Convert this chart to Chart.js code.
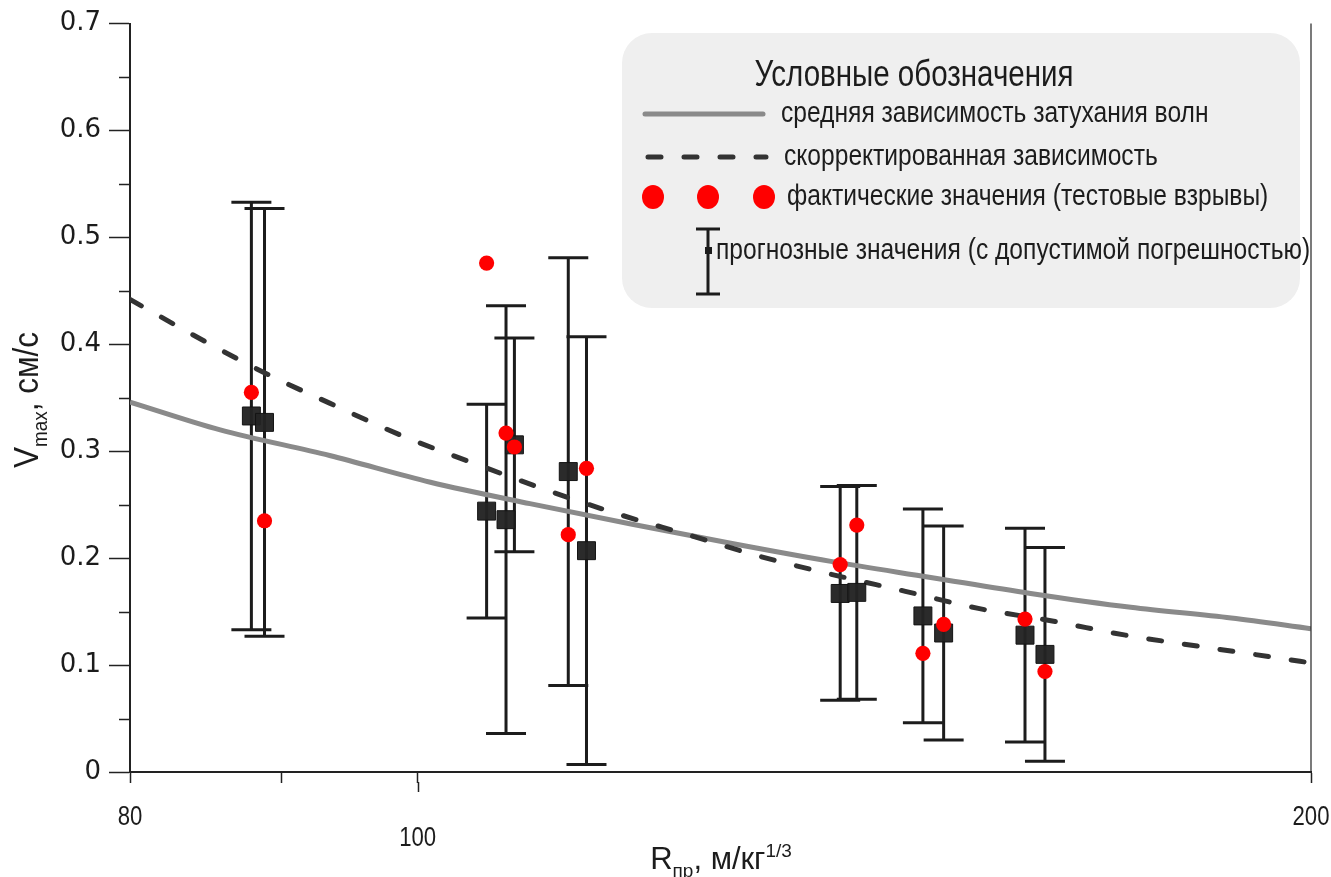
<!DOCTYPE html>
<html>
<head>
<meta charset="utf-8">
<script src="https://cdn.jsdelivr.net/npm/chart.js@4.4.1/dist/chart.umd.min.js"></script>
<style>
  html, body { margin: 0; padding: 0; background: #ffffff; }
  #wrap { width: 1331px; height: 877px; position: relative; }
</style>
</head>
<body>
<div id="wrap"><canvas id="chart" width="1331" height="877"></canvas></div>
<script>
// Reduced distance R (m/kg^1/3) of every test point
const distances = [87.9, 88.8, 105.5, 107.1, 107.8, 112.4, 114.0, 138.8, 140.6, 148.0, 150.4, 160.2, 162.7];
// Predicted peak velocity (cm/s) and its permissible error
const predicted = [0.333, 0.327, 0.244, 0.236, 0.306, 0.281, 0.207, 0.167, 0.168, 0.146, 0.130, 0.128, 0.110];
const tolerance = [0.2, 0.2, 0.1, 0.2, 0.1, 0.2, 0.2, 0.1, 0.1, 0.1, 0.1, 0.1, 0.1];
// Peak velocity measured in the test blasts (cm/s)
const measured = [0.355, 0.235, 0.476, 0.317, 0.304, 0.222, 0.284, 0.194, 0.231, 0.111, 0.138, 0.143, 0.094];

// Average wave attenuation curve
const meanR = [80, 85.8, 93.4, 101.0, 109.1, 118.0, 127.5, 137.8, 148.9, 160.9, 173.9, 188.0, 200];
const meanV = [0.346, 0.320, 0.296, 0.271, 0.251, 0.232, 0.214, 0.197, 0.182, 0.167, 0.154, 0.144, 0.134];
// Corrected attenuation curve
const corrR = [80, 84.5, 89.0, 93.4, 98.9, 104.4, 110.2, 116.6, 123.3, 130.3, 137.8, 146.0, 154.5, 163.8, 173.2, 183.9, 194.6, 200];
const corrV = [0.442, 0.405, 0.372, 0.345, 0.314, 0.289, 0.265, 0.242, 0.222, 0.202, 0.185, 0.169, 0.153, 0.141, 0.128, 0.117, 0.107, 0.102];

// Axis ticks
const xTicks = [80, 90, 100, 200];
const xTickLabels = ['80', '', '100', '200'];
const xLongTicks = [100];
const yMinorTicks = [0.05, 0.15, 0.25, 0.35, 0.45, 0.55, 0.65];

// Texts
const xTitle = [{ t: 'R', sub: 0 }, { t: 'пр', sub: 1 }, { t: ', м/кг', sub: 0 }, { t: '1/3', sub: -1 }];
const yTitle = [{ t: 'V', sub: 0 }, { t: 'max', sub: 1 }, { t: ', см/с', sub: 0 }];
const legendTitle = 'Условные обозначения';
const legendLabels = [
  'средняя зависимость затухания волн',
  'скорректированная зависимость',
  'фактические значения (тестовые взрывы)',
  'прогнозные значения (с допустимой погрешностью)'
];

const SANS = "'Liberation Sans', Arial, sans-serif";
const INK = '#1c1c1c';
const MEAN_COLOR = '#8a8a8a';
const CORR_COLOR = '#333333';
const DOT_COLOR = '#ff0000';
const DASH = [13, 23];

function toPoints(xs, ys) { return xs.map((x, i) => ({ x: x, y: ys[i] })); }

// Horizontally condensed text (narrow face look)
function narrowText(ctx, text, x, y, size, sx, align) {
  ctx.save();
  ctx.font = size + 'px ' + SANS;
  ctx.textAlign = 'left';
  const w = ctx.measureText(text).width * sx;
  const x0 = align === 'center' ? x - w / 2 : (align === 'right' ? x - w : x);
  ctx.translate(x0, y);
  ctx.scale(sx, 1);
  ctx.fillText(text, 0, 0);
  ctx.restore();
  return w;
}

// Text with sub/superscript parts, centred on (cx, baseline)
function drawRich(ctx, parts, cx, baseline, size, smallSize, sx) {
  const widths = parts.map(p => {
    ctx.font = (p.sub ? smallSize : size) + 'px ' + SANS;
    return ctx.measureText(p.t).width * sx;
  });
  const total = widths.reduce((a, b) => a + b, 0);
  let x = cx - total / 2;
  ctx.textBaseline = 'alphabetic';
  parts.forEach((p, i) => {
    const dy = p.sub === 1 ? size * 0.26 : (p.sub === -1 ? -size * 0.40 : 0);
    narrowText(ctx, p.t, x, baseline + dy, p.sub ? smallSize : size, sx, 'left');
    x += widths[i];
  });
}

// Vertical whiskers with caps for the predicted values
const errorBars = {
  id: 'errorBars',
  beforeDatasetsDraw(chart) {
    const { ctx, scales: { x, y } } = chart;
    ctx.save();
    ctx.strokeStyle = INK;
    ctx.lineWidth = 3;
    ctx.lineCap = 'butt';
    distances.forEach((r, i) => {
      const px = x.getPixelForValue(r);
      const top = y.getPixelForValue(predicted[i] + tolerance[i]);
      const bot = y.getPixelForValue(predicted[i] - tolerance[i]);
      ctx.beginPath();
      ctx.moveTo(px, top); ctx.lineTo(px, bot);
      ctx.moveTo(px - 20, top); ctx.lineTo(px + 20, top);
      ctx.moveTo(px - 20, bot); ctx.lineTo(px + 20, bot);
      ctx.stroke();
    });
    ctx.restore();
  }
};

// Minor ticks, x labels, right frame line, axis titles and the legend panel
const decorations = {
  id: 'decorations',
  afterDraw(chart) {
    const { ctx, chartArea: a, scales: { x, y } } = chart;
    ctx.save();
    ctx.strokeStyle = '#222';
    ctx.lineWidth = 1.5;
    ctx.beginPath();
    yMinorTicks.forEach(v => {
      const py = Math.round(y.getPixelForValue(v)) + 0.5;
      ctx.moveTo(a.left - 11, py); ctx.lineTo(a.left, py);
    });
    xLongTicks.forEach(v => {
      const px = Math.round(x.getPixelForValue(v)) + 0.5;
      ctx.moveTo(px, a.bottom + 10); ctx.lineTo(px, a.bottom + 20);
    });
    ctx.stroke();
    // right frame line
    ctx.lineWidth = 1.2;
    ctx.beginPath();
    ctx.moveTo(a.right, a.top); ctx.lineTo(a.right, a.bottom);
    ctx.stroke();

    // x tick labels
    ctx.fillStyle = INK;
    ctx.textBaseline = 'middle';
    xTicks.forEach((v, i) => {
      if (!xTickLabels[i]) return;
      const px = x.getPixelForValue(v);
      const py = a.bottom + (xLongTicks.includes(v) ? 67 : 46);
      narrowText(ctx, xTickLabels[i], px, py, 27, 0.82, 'center');
    });

    // axis titles
    drawRich(ctx, xTitle, 721, 869, 31, 19, 1);
    ctx.save();
    ctx.rotate(-Math.PI / 2);
    drawRich(ctx, yTitle, -400, 38, 35, 21, 0.9);
    ctx.restore();

    // legend panel
    ctx.fillStyle = '#efefef';
    ctx.beginPath();
    ctx.roundRect(622, 33, 678, 275, 30);
    ctx.fill();

    ctx.fillStyle = INK;
    ctx.textBaseline = 'middle';
    narrowText(ctx, legendTitle, 914, 76, 36, 0.82, 'center');
    // average curve
    ctx.strokeStyle = MEAN_COLOR;
    ctx.lineWidth = 5;
    ctx.lineCap = 'round';
    ctx.beginPath(); ctx.moveTo(645, 114); ctx.lineTo(763, 114); ctx.stroke();
    narrowText(ctx, legendLabels[0], 781, 114, 30, 0.82, 'left');
    // corrected curve
    ctx.strokeStyle = CORR_COLOR;
    ctx.setLineDash(DASH);
    ctx.beginPath(); ctx.moveTo(648, 157); ctx.lineTo(766, 157); ctx.stroke();
    ctx.setLineDash([]);
    narrowText(ctx, legendLabels[1], 784, 157, 30, 0.82, 'left');
    // measured values
    ctx.fillStyle = DOT_COLOR;
    [653, 708, 764].forEach(cx => {
      ctx.beginPath(); ctx.ellipse(cx, 197, 11, 12, 0, 0, Math.PI * 2); ctx.fill();
    });
    ctx.fillStyle = INK;
    narrowText(ctx, legendLabels[2], 787, 197, 30, 0.82, 'left');
    // predicted values
    ctx.strokeStyle = INK;
    ctx.lineWidth = 3;
    ctx.lineCap = 'butt';
    ctx.beginPath();
    ctx.moveTo(708, 229); ctx.lineTo(708, 294);
    ctx.moveTo(696, 229); ctx.lineTo(720, 229);
    ctx.moveTo(696, 294); ctx.lineTo(720, 294);
    ctx.stroke();
    ctx.fillRect(705, 247, 7, 7);
    narrowText(ctx, legendLabels[3], 716, 251, 30, 0.82, 'left');
    ctx.restore();
  }
};

new Chart(document.getElementById('chart'), {
  type: 'scatter',
  data: {
    datasets: [
      {
        type: 'line',
        label: legendLabels[0],
        data: toPoints(meanR, meanV),
        borderColor: MEAN_COLOR,
        borderWidth: 5,
        pointRadius: 0,
        cubicInterpolationMode: 'monotone',
        fill: false,
        order: 4
      },
      {
        type: 'line',
        label: legendLabels[1],
        data: toPoints(corrR, corrV),
        borderColor: CORR_COLOR,
        borderWidth: 5,
        borderDash: DASH,
        borderCapStyle: 'round',
        pointRadius: 0,
        cubicInterpolationMode: 'monotone',
        fill: false,
        order: 3
      },
      {
        label: legendLabels[3],
        data: toPoints(distances, predicted),
        pointStyle: 'rect',
        pointRadius: 12.7,
        backgroundColor: 'rgba(36,36,36,0.97)',
        borderColor: '#141414',
        borderWidth: 1,
        order: 2
      },
      {
        label: legendLabels[2],
        data: toPoints(distances, measured),
        pointStyle: 'circle',
        pointRadius: 7.6,
        backgroundColor: DOT_COLOR,
        borderWidth: 0,
        order: 1
      }
    ]
  },
  options: {
    responsive: false,
    animation: false,
    events: [],
    layout: { padding: { left: 0, right: 20, top: 23, bottom: 0 } },
    plugins: { legend: { display: false }, tooltip: { enabled: false } },
    scales: {
      x: {
        type: 'logarithmic',
        min: 80,
        max: 200,
        afterBuildTicks: s => { s.ticks = xTicks.map(v => ({ value: v })); },
        afterFit: s => { s.height = 105; s.paddingLeft = 0; s.paddingRight = 0; },
        ticks: { display: false, autoSkip: false },
        grid: { display: true, drawOnChartArea: false, drawTicks: true, tickLength: 11, tickColor: '#222', tickWidth: 1.5 },
        border: { display: true, color: '#222', width: 2 }
      },
      y: {
        min: 0,
        max: 0.7,
        afterFit: s => { s.width = 130; },
        ticks: {
          stepSize: 0.1,
          padding: 8,
          color: INK,
          font: { family: "'DejaVu Sans', sans-serif", size: 26 },
          callback: v => (Math.abs(v) < 1e-9 ? '0' : v.toFixed(1))
        },
        grid: { display: true, drawOnChartArea: false, drawTicks: true, tickLength: 21, tickColor: '#222', tickWidth: 1.5 },
        border: { display: true, color: '#222', width: 2 }
      }
    }
  },
  plugins: [errorBars, decorations]
});
</script>
</body>
</html>
